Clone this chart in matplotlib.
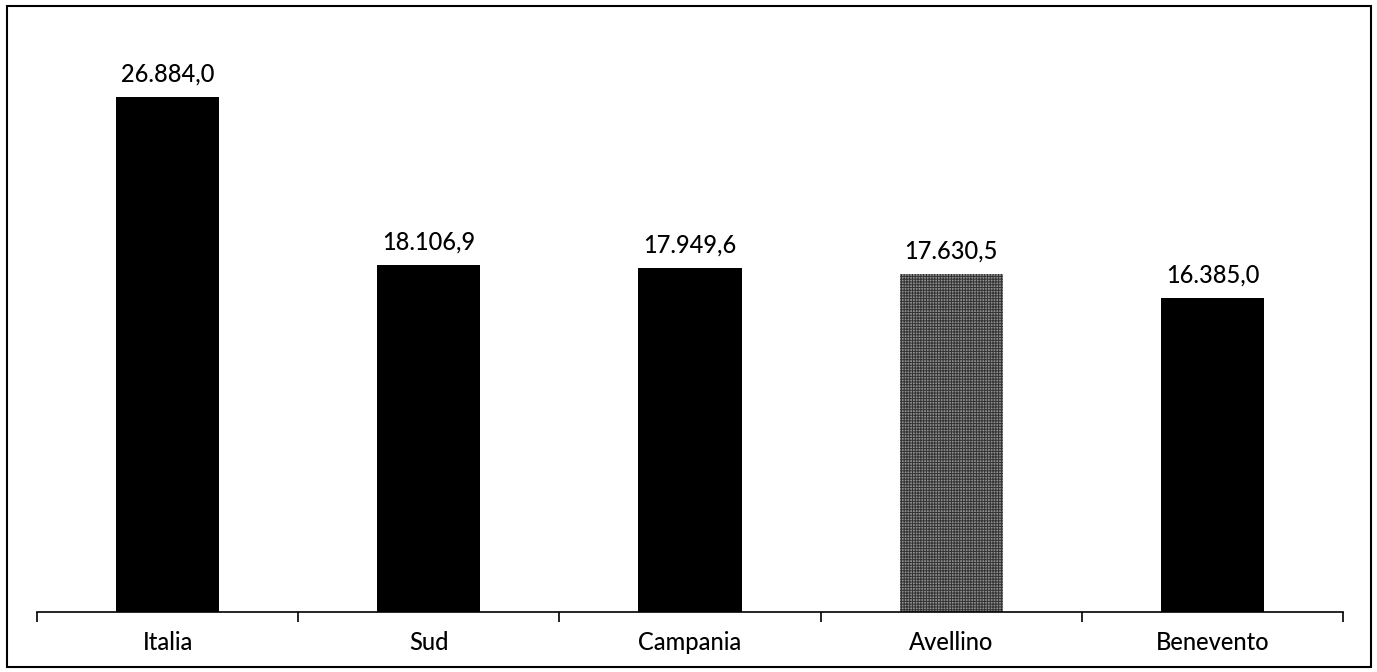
import numpy as np
import matplotlib.pyplot as plt
from matplotlib.patches import Rectangle

categories = ["Italia", "Sud", "Campania", "Avellino", "Benevento"]
values = [26884.0, 18106.9, 17949.6, 17630.5, 16385.0]
value_labels = ["26.884,0", "18.106,9", "17.949,6", "17.630,5", "16.385,0"]

plt.rcParams['font.family'] = ['Lato', 'DejaVu Sans']
plt.rcParams['hatch.linewidth'] = 0.7

fig = plt.figure(figsize=(13.77, 6.72), dpi=100)
ax = fig.add_axes([37 / 1377, 1 - 612 / 672, (1343 - 37) / 1377, (612 - 37) / 672])

x = np.arange(len(categories))
bars = ax.bar(x, values, width=0.395, color='black', linewidth=0)

# Avellino highlighted with a grey stippled fill
hl = bars[3]
hl.set_facecolor('#8e8e8e')
hl.set_hatch('++++++')
hl.set_edgecolor('#333333')

for xi, v, lab in zip(x, values, value_labels):
    ax.annotate(lab, (xi, v), xytext=(0, 8), textcoords='offset points',
                ha='center', va='bottom', fontsize=17, fontweight='medium')

ax.set_xlim(-0.5, len(categories) - 0.5)
ax.set_ylim(0, 30000)
ax.set_xticks(x)
ax.set_xticklabels(categories, fontsize=17, fontweight='medium')
ax.tick_params(axis='x', which='major', length=0, pad=14)
ax.set_xticks(np.arange(-0.5, len(categories)), minor=True)
ax.tick_params(axis='x', which='minor', length=7, width=1.2, direction='out')
ax.set_yticks([])
for s in ['top', 'left', 'right']:
    ax.spines[s].set_visible(False)
ax.spines['bottom'].set_linewidth(1.2)

# border around the chart
fig.patches.append(Rectangle((7 / 1377, 5 / 672), 1364 / 1377, 661 / 672,
                             transform=fig.transFigure, fill=False,
                             edgecolor='black', linewidth=1.5))

fig.savefig('out.png', dpi=100)
